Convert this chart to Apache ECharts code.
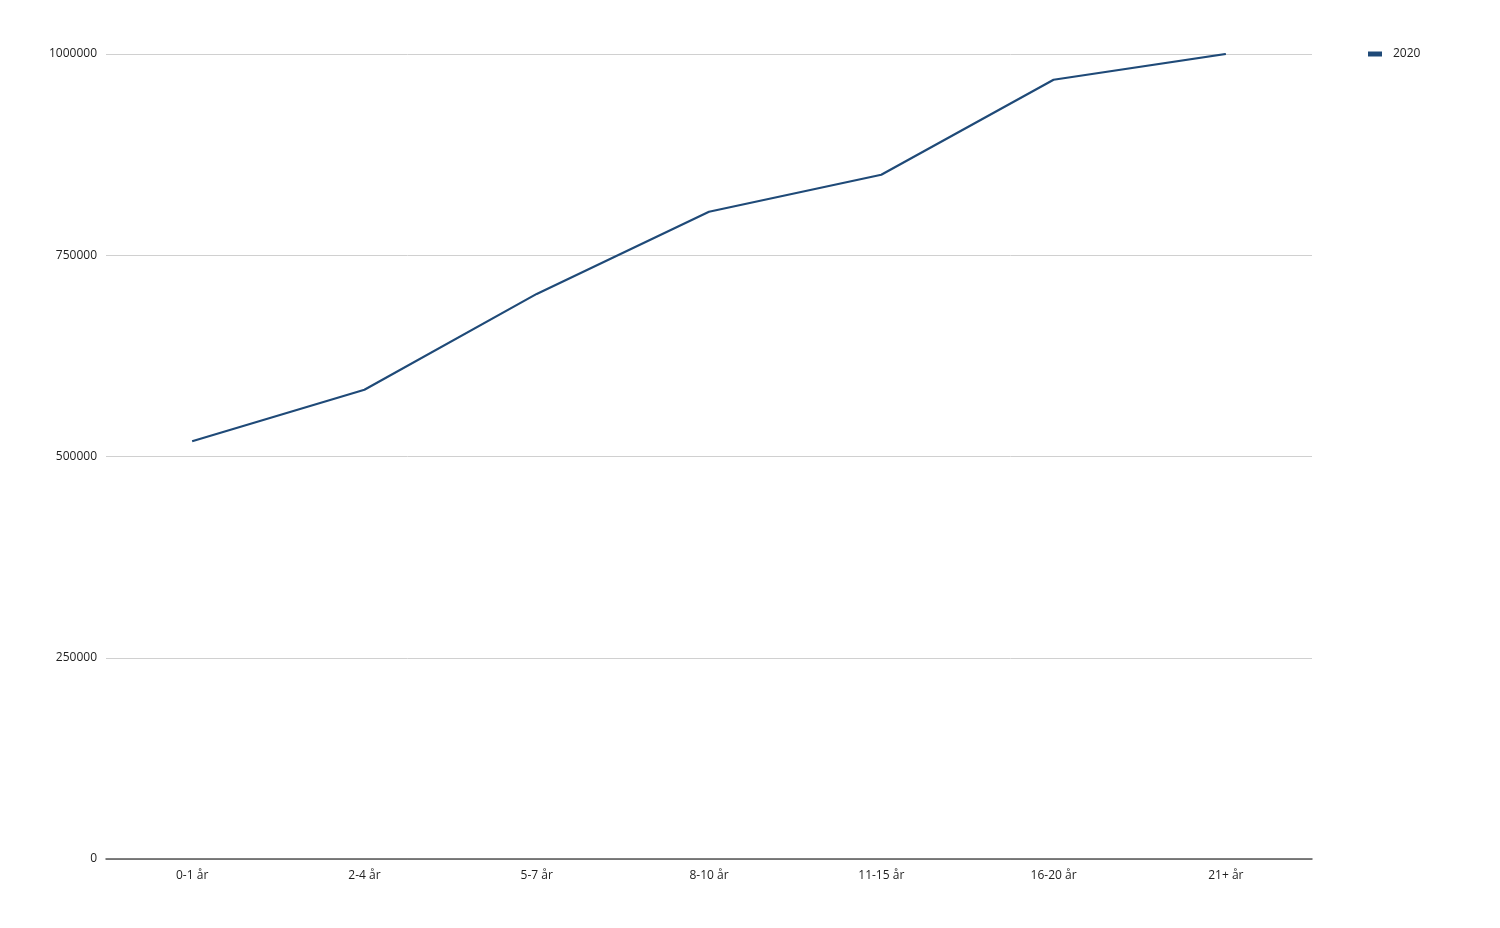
<!DOCTYPE html>
<html><head><meta charset="utf-8">
<script src="https://cdn.jsdelivr.net/npm/echarts@6/dist/echarts.min.js"></script>
<style>html,body{margin:0;padding:0;background:#fff}#c{width:1500px;height:928px}</style>
</head><body><div id="c"></div>
<script>
const categories = ["0-1 år","2-4 år","5-7 år","8-10 år","11-15 år","16-20 år","21+ år"];
const values2020 = [519000, 583000, 702000, 804000, 850000, 968000, 1000000];
const seriesName = "2020";
const yTicks = [0, 250000, 500000, 750000, 1000000];

const chart = echarts.init(document.getElementById('c'));
const font = '"Open Sans", "Noto Sans", sans-serif';
chart.setOption({
  animation: false,
  backgroundColor: '#fff',
  grid: {left: 106, right: 188, top: 54, bottom: 69},
  legend: {
    data: [{name: seriesName, icon: 'rect'}],
    orient: 'vertical', left: 1363, top: 43,
    itemWidth: 14, itemHeight: 5, itemGap: 8,
    textStyle: {fontFamily: font, fontSize: 12, color: '#222', padding: [0, 0, 0, 6]}
  },
  xAxis: {
    type: 'category', data: categories, boundaryGap: true,
    axisLine: {lineStyle: {color: '#555', width: 1.5}},
    axisTick: {show: false},
    axisLabel: {fontFamily: font, fontSize: 12, color: '#222', margin: 11}
  },
  yAxis: {
    type: 'value', min: yTicks[0], max: yTicks[yTicks.length-1], interval: 250000,
    axisLine: {show: false}, axisTick: {show: false},
    axisLabel: {fontFamily: font, fontSize: 12, color: '#222', margin: 9,
      formatter: v => String(v)},
    splitLine: {lineStyle: {color: '#d0d0d0', width: 1}}
  },
  series: [{
    name: seriesName, type: 'line', data: values2020,
    symbol: 'none', lineStyle: {color: '#1f4a78', width: 2.2},
    itemStyle: {color: '#1f4a78'}
  }]
});
</script></body></html>
